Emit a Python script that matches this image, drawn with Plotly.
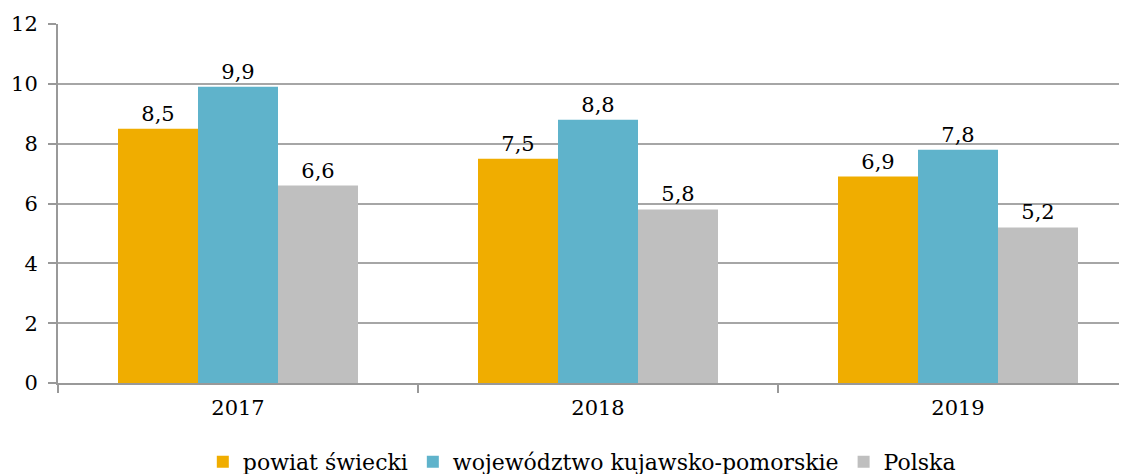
import plotly.graph_objects as go

years = ["2017", "2018", "2019"]
powiat = [8.5, 7.5, 6.9]
wojewodztwo = [9.9, 8.8, 7.8]
polska = [6.6, 5.8, 5.2]
names = ["powiat świecki", "województwo kujawsko-pomorskie", "Polska"]
colors = ["#F0AD00", "#5FB3CB", "#BFBFBF"]

FONT = "DejaVu Serif"
FS = 21

fig = go.Figure()
for name, vals, col in zip(names, [powiat, wojewodztwo, polska], colors):
    fig.add_trace(go.Bar(
        x=years, y=vals, name=name, marker=dict(color=col, line=dict(width=0)),
        text=vals, texttemplate="%{y:.1f}", textposition="outside",
        textfont=dict(family=FONT, size=FS, color="#000"), cliponaxis=False,
    ))

fig.update_layout(
    width=1119, height=466,
    margin=dict(l=50, r=0, t=16, b=91, autoexpand=False),
    barmode="group", bargap=1/3, bargroupgap=0,
    separators=", ",
    plot_bgcolor="white", paper_bgcolor="white",
    font=dict(family=FONT, size=FS, color="#000"),
    showlegend=True,
    legend=dict(orientation="h", x=0.49, xanchor="center", y=-0.22, yanchor="middle",
                font=dict(family=FONT, size=22, color="#000"), itemwidth=30, traceorder="normal"),
)
fig.update_xaxes(
    type="category", range=[-0.5, 2.5 - 11/360], automargin=False,
    showline=True, linecolor="#999999", linewidth=2,
    ticks="outside", tickson="boundaries", ticklen=8, tickcolor="#999999", tickwidth=2,
    showgrid=False, tickfont=dict(family=FONT, size=FS, color="#000"), ticklabelstandoff=5,
)
fig.update_yaxes(
    range=[0, 12], dtick=2, tick0=0, automargin=False,
    showline=True, linecolor="#999999", linewidth=2,
    ticks="outside", ticklen=8, tickcolor="#999999", tickwidth=2,
    showgrid=True, gridcolor="#A6A6A6", gridwidth=2,
    zeroline=False, tickfont=dict(family=FONT, size=FS, color="#000"), ticklabelstandoff=6,
)

fig.write_html("out.html")
